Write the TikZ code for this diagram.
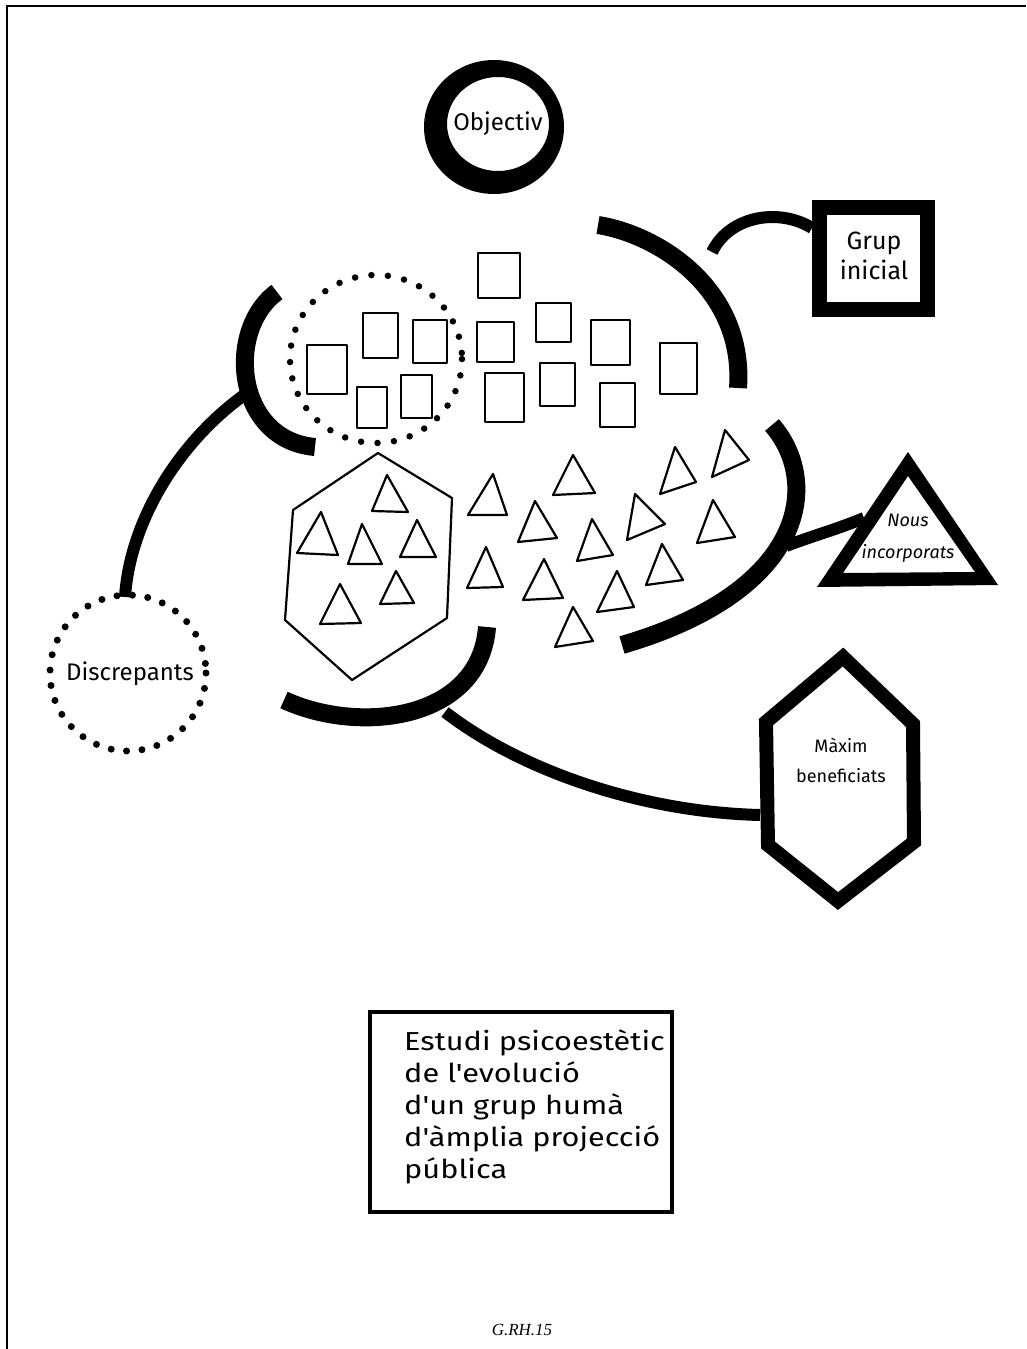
\documentclass[tikz,border=0pt]{standalone}
\usepackage{fontspec}
\setmainfont{Liberation Serif}
\newfontfamily\hand{Fira Sans}
\newcommand{\wide}[1]{\scalebox{1.18}[1]{#1}}
\begin{document}
\begin{tikzpicture}[x=1pt,y=-1pt,
  fig/.style={line width=2.2pt,line join=round,line cap=round},
  band/.style={line width=18pt,line cap=butt},
  link/.style={line width=12pt,line cap=butt},
  dotring/.style={line width=7pt,line cap=round,dash pattern=on 0pt off 15.5pt},
  lbl/.style={font=\hand,align=center,inner sep=0pt}]
\useasboundingbox (0,0) rectangle (1026,1349);
% frame
\draw[line width=2pt] (7,1349) -- (7,6) -- (1026,6);

% Objectiv
\fill[even odd rule] (494,127) ellipse [x radius=70,y radius=67] (498,124) ellipse [x radius=51,y radius=47];
\node[lbl,font=\hand\fontsize{24}{24}\selectfont] (obj) at (498,124) {Objectiv};

% Grup inicial
\draw[line width=15pt] (819.5,207.5) rectangle (927.5,309.5);
\node[lbl,font=\hand\fontsize{25}{30}\selectfont] (grup) at (874,256) {Grup\\inicial};
\coordinate (grupL) at (812,228);

% arc near grup
\draw[band] (598,225) .. controls (660,235) and (745,290) .. (738,388);
\coordinate (arcG) at (712,252);
\draw[link] (arcG) .. controls (730,215) and (780,208) .. (grupL);

% left arc and Discrepants
\draw[band] (277,292) .. controls (225,330) and (235,440) .. (315,447);
\coordinate (arcL) at (247,393);
\draw[dotring] (128,673) circle [radius=78];
\node[lbl,font=\hand\fontsize{24}{24}\selectfont] (disc) at (130,674) {Discrepants};
\coordinate (discT) at (125,597);
\draw[link] (arcL) .. controls (180,440) and (130,520) .. (discT);

% dotted ellipse around squares
\draw[line width=6.5pt,line cap=round,dash pattern=on 0pt off 16.5pt] (376,359) ellipse [x radius=86,y radius=84];

% squares
\foreach \a/\b/\c/\d in {478/253/520/298, 363/313/398/358, 413/320/447/363, 307/345/347/394,
  357/387/387/428, 401/375/432/418, 477/322/514/362, 536/303/571/342, 591/320/630/365,
  660/343/697/394, 485/373/524/422, 540/363/575/406, 600/383/635/427}
  \draw[fig] (\a,\b) rectangle (\c,\d);

% thin hexagon
\draw[fig] (378,453) -- (452,498) -- (447,618) -- (352,680) -- (285,620) -- (293,510) -- cycle;

% triangles
\foreach \ax/\ay/\bx/\by/\cx/\cy in {387/475/372/511/408/512, 321/512/297/553/338/555,
  362/524/348/564/382/564, 417/520/400/557/436/557, 340/584/320/624/361/623,
  396/571/380/604/414/603, 493/474/468/515/507/515, 573/455/553/495/595/493,
  535/501/518/542/557/538, 592/519/577/561/613/555, 675/447/660/494/696/482,
  725/430/712/477/749/460, 635/494/627/540/665/524, 713/500/697/543/735/537,
  486/547/467/588/503/587, 544/559/523/600/563/598, 662/544/646/585/683/580,
  617/571/597/612/634/607, 573/607/555/647/593/641}
  \draw[fig] (\ax,\ay) -- (\bx,\by) -- (\cx,\cy) -- cycle;

% right arc and Nous incorporats
\draw[band] (772,425) .. controls (820,480) and (810,590) .. (622,645);
\coordinate (arcR) at (786,546);
\fill[even odd rule] (908,452) -- (998,585) -- (817,587) -- cycle (908,476) -- (975,572) -- (843,573) -- cycle;
\node[lbl,font=\hand\itshape\fontsize{18}{32}\selectfont] (nous) at (908,538) {Nous\\incorporats};
\coordinate (nousL) at (864,518);
\draw[link] (arcR) .. controls (815,535) and (835,530) .. (nousL);

% bottom arc and Màxim beneficiats
\draw[band] (487,627) .. controls (480,720) and (360,735) .. (284,700);
\coordinate (arcB) at (445,712);
\draw[line width=14pt,line join=miter] (843,657) -- (913,724) -- (914,842) -- (838,901) -- (768,845) -- (766,722) -- cycle;
\node[lbl,font=\hand\fontsize{18}{30}\selectfont] (max) at (841,760) {Màxim\\beneficiats};
\coordinate (maxL) at (760,815);
\draw[link] (arcB) .. controls (520,770) and (640,812) .. (maxL);

% text box
\draw[line width=4pt] (370,1012) rectangle (672,1212);
\node[lbl,font=\hand\fontsize{26}{32}\selectfont,align=left,anchor=north west] (txt) at (404,1029)
  {\wide{Estudi psicoestètic}\\\wide{de l'evolució}\\\wide{d'un grup humà}\\\wide{d'àmplia projecció}\\\wide{pública}};

% footer
\node[inner sep=0pt,font=\itshape\fontsize{17}{17}\selectfont] (foot) at (522,1330) {G.RH.15};
\end{tikzpicture}
\end{document}
